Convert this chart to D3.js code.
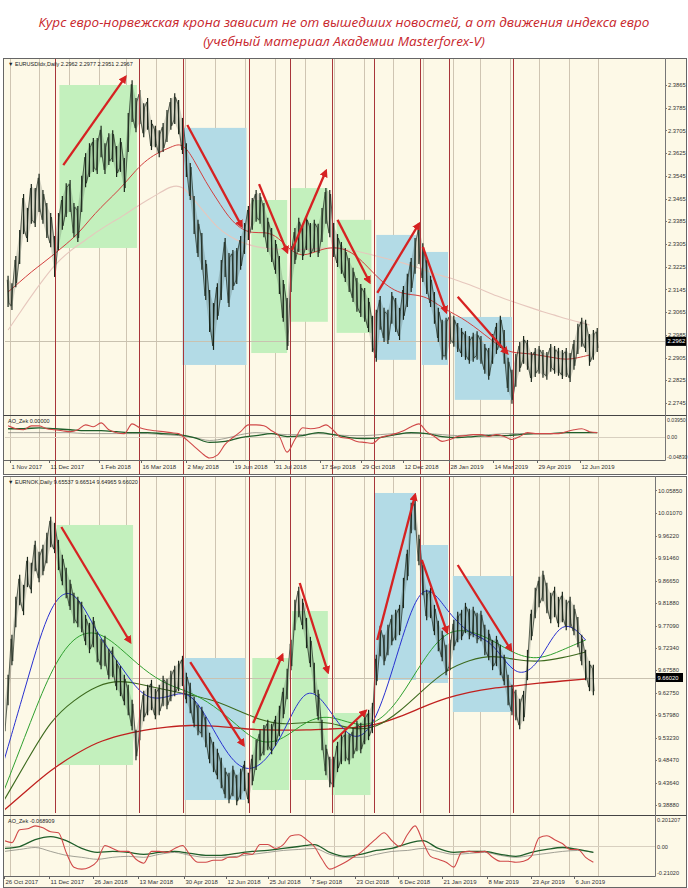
<!DOCTYPE html>
<html><head><meta charset="utf-8">
<script src="https://cdn.jsdelivr.net/npm/d3@7"></script>
<style>body{margin:0;background:#fff}</style>
</head><body>
<svg id="c" width="688" height="888"></svg>
<script>
const titleLines = ["Курс евро-норвежская крона зависит не от вышедших новостей, а от движения индекса евро","(учебный материал Академии Masterforex-V)"];
const eurxHeader = "EURUSDIdx,Daily  2.2962 2.2977 2.2951 2.2967";
const nokHeader = "EURNOK,Daily  9.65537 9.66514 9.64965 9.66020";
const eurxOscHeader = "AO_Zek 0.00000";
const nokOscHeader = "AO_Zek -0.068909";
const barStepDays = 4;
const eurxStart = "2017-10-30";
const eurxHigh = [2.3186,2.3160,2.3256,2.3347,2.3474,2.3425,2.3509,2.3495,2.3545,2.3488,
2.3442,2.3407,2.3326,2.3407,2.3467,2.3512,2.3523,2.3442,2.3432,2.3538,
2.3618,2.3653,2.3671,2.3671,2.3714,2.3653,2.3688,2.3699,2.3643,2.3671,
2.3601,2.3759,2.3875,2.3812,2.3840,2.3794,2.3812,2.3735,2.3714,2.3699,
2.3724,2.3770,2.3812,2.3829,2.3805,2.3742,2.3653,2.3583,2.3467,2.3383,
2.3337,2.3242,2.3136,2.3090,2.3160,2.3242,2.3319,2.3266,2.3277,2.3284,
2.3326,2.3372,2.3432,2.3460,2.3488,2.3478,2.3442,2.3390,2.3354,2.3312,
2.3256,2.3171,2.3108,2.3291,2.3354,2.3390,2.3362,2.3397,2.3372,2.3383,
2.3369,2.3425,2.3495,2.3488,2.3372,2.3333,2.3305,2.3284,2.3249,2.3214,
2.3178,2.3157,2.3143,2.3108,2.3045,2.3066,2.3115,2.3073,2.3066,2.3129,
2.3108,2.3073,2.3150,2.3193,2.3249,2.3319,2.3362,2.3301,2.3242,2.3186,
2.3129,2.3073,2.3031,2.3038,2.3055,2.3045,2.3020,2.3002,2.2991,2.2974,
2.2985,2.2991,2.2974,2.2946,2.2932,2.2981,2.3020,2.3045,2.2995,2.2897,
2.2855,2.2911,2.2953,2.2974,2.2960,2.2918,2.2932,2.2939,2.2925,2.2918,
2.2946,2.2939,2.2932,2.2925,2.2932,2.2914,2.2960,2.3017,2.3038,2.3031,
2.2981,2.2995,2.3002];
const eurxLow = [2.3090,2.3080,2.3160,2.3242,2.3347,2.3319,2.3383,2.3372,2.3425,2.3383,
2.3333,2.3301,2.3196,2.3291,2.3362,2.3407,2.3425,2.3336,2.3319,2.3425,
2.3512,2.3548,2.3566,2.3559,2.3618,2.3559,2.3590,2.3601,2.3548,2.3566,
2.3495,2.3636,2.3742,2.3706,2.3735,2.3688,2.3714,2.3643,2.3653,2.3618,
2.3636,2.3671,2.3714,2.3735,2.3699,2.3629,2.3548,2.3467,2.3347,2.3266,
2.3221,2.3115,2.3002,2.2939,2.3045,2.3115,2.3196,2.3090,2.3150,2.3171,
2.3221,2.3277,2.3326,2.3362,2.3390,2.3383,2.3336,2.3284,2.3249,2.3207,
2.3136,2.3038,2.2939,2.3143,2.3242,2.3284,2.3256,2.3291,2.3266,2.3284,
2.3266,2.3319,2.3383,2.3336,2.3266,2.3231,2.3207,2.3178,2.3143,2.3108,
2.3073,2.3055,2.3038,2.3002,2.2932,2.2897,2.3010,2.2967,2.2960,2.3031,
2.3002,2.2974,2.3045,2.3090,2.3143,2.3207,2.3242,2.3178,2.3136,2.3090,
2.3031,2.2967,2.2904,2.2904,2.2960,2.2950,2.2932,2.2914,2.2904,2.2890,
2.2897,2.2904,2.2890,2.2855,2.2834,2.2890,2.2925,2.2946,2.2890,2.2791,
2.2749,2.2809,2.2862,2.2890,2.2869,2.2826,2.2844,2.2855,2.2841,2.2834,
2.2862,2.2855,2.2848,2.2837,2.2844,2.2826,2.2869,2.2925,2.2950,2.2932,
2.2883,2.2904,2.2932];
const nokStart = "2017-10-26";
const nokHigh = [9.5977,9.6616,9.7468,9.8276,9.8745,9.8532,9.9128,9.9000,9.9468,9.9234,
9.9384,9.9639,9.9979,9.9852,9.9490,9.9171,9.8894,9.8639,9.8362,9.8276,
9.8170,9.7893,9.7723,9.7850,9.7531,9.7383,9.7446,9.7170,9.7212,9.6935,
9.6808,9.6616,9.6403,9.6084,9.5445,9.5871,9.6275,9.6403,9.6509,9.6318,
9.6403,9.6595,9.6531,9.6701,9.6808,9.6914,9.7021,9.6659,9.6446,9.6148,
9.5977,9.5935,9.5722,9.5381,9.5190,9.5041,9.4849,9.4636,9.4530,9.4679,
9.4487,9.4615,9.4785,9.4530,9.4913,9.5233,9.5445,9.5551,9.5658,9.5573,
9.5743,9.5956,9.6339,9.6744,9.7361,9.8213,9.8489,9.8234,9.7829,9.7425,
9.6871,9.6297,9.5658,9.5126,9.4870,9.4870,9.5190,9.5360,9.5424,9.5360,
9.5488,9.5637,9.5594,9.5786,9.5871,9.6020,9.7042,9.7659,9.7468,9.7680,
9.7893,9.8000,9.8106,9.8681,9.9277,10.0277,10.0341,9.9596,9.8958,9.8426,
9.8468,9.8106,9.7765,9.7553,9.7255,9.7361,9.7787,9.7957,9.8000,9.8149,
9.8021,9.8064,9.7936,9.7978,9.7680,9.7574,9.7361,9.7446,9.7255,9.7042,
9.6616,9.6403,9.6297,9.6105,9.6275,9.7148,9.8000,9.8468,9.8702,9.8830,
9.8575,9.8362,9.8489,9.8276,9.8383,9.8213,9.8276,9.8106,9.7850,9.7468,
9.7148,9.6914,9.6829];
const nokLow = [9.5417,9.6056,9.6908,9.7716,9.8185,9.7972,9.8568,9.8440,9.8908,9.8674,
9.8824,9.9079,9.9419,9.9292,9.8930,9.8611,9.8334,9.8079,9.7802,9.7716,
9.7610,9.7333,9.7163,9.7290,9.6971,9.6823,9.6886,9.6610,9.6652,9.6375,
9.6248,9.6056,9.5843,9.5524,9.4885,9.5311,9.5715,9.5843,9.5949,9.5758,
9.5843,9.6035,9.5971,9.6141,9.6248,9.6354,9.6461,9.6099,9.5886,9.5588,
9.5417,9.5375,9.5162,9.4821,9.4630,9.4481,9.4289,9.4076,9.3970,9.4119,
9.3927,9.4055,9.4225,9.3970,9.4353,9.4673,9.4885,9.4991,9.5098,9.5013,
9.5183,9.5396,9.5779,9.6184,9.6801,9.7653,9.7929,9.7674,9.7269,9.6865,
9.6311,9.5737,9.5098,9.4566,9.4310,9.4310,9.4630,9.4800,9.4864,9.4800,
9.4928,9.5077,9.5034,9.5226,9.5311,9.5460,9.6482,9.7099,9.6908,9.7120,
9.7333,9.7440,9.7546,9.8121,9.8717,9.9717,9.9781,9.9036,9.8398,9.7866,
9.7908,9.7546,9.7205,9.6993,9.6695,9.6801,9.7227,9.7397,9.7440,9.7589,
9.7461,9.7504,9.7376,9.7418,9.7120,9.7014,9.6801,9.6886,9.6695,9.6482,
9.6056,9.5843,9.5737,9.5545,9.5715,9.6588,9.7440,9.7908,9.8142,9.8270,
9.8015,9.7802,9.7929,9.7716,9.7823,9.7653,9.7716,9.7546,9.7290,9.6908,
9.6588,9.6354,9.6269];
const eurxMaStep = 12;
const eurxMaRed = [2.3136,2.3171,2.3207,2.3238,2.3270,2.3305,2.3340,2.3390,2.3435,2.3474,2.3516,2.3566,2.3604,2.3629,2.3646,2.3664,2.3601,2.3523,2.3460,2.3397,2.3358,2.3343,2.3347,2.3337,2.3294,2.3263,2.3270,2.3287,2.3294,2.3287,2.3263,2.3221,2.3178,2.3146,2.3129,2.3126,2.3118,2.3090,2.3066,2.3045,2.3017,2.2985,2.2953,2.2925,2.2921,2.2918,2.2911,2.2904,2.2897,2.2904,2.2914];
const eurxMaPale = [2.3002,2.3062,2.3122,2.3178,2.3231,2.3270,2.3301,2.3329,2.3358,2.3383,2.3407,2.3435,2.3460,2.3484,2.3509,2.3512,2.3460,2.3411,2.3362,2.3333,2.3312,2.3298,2.3291,2.3287,2.3284,2.3284,2.3287,2.3291,2.3291,2.3287,2.3280,2.3270,2.3259,2.3249,2.3238,2.3225,2.3211,2.3196,2.3186,2.3171,2.3157,2.3140,2.3122,2.3108,2.3094,2.3080,2.3066,2.3055,2.3041,2.3031,2.3020];
const nokMaStep = 24;
const nokMaBlue = [9.4846,9.6549,9.8252,9.8571,9.7507,9.6868,9.6123,9.6166,9.6379,9.5484,9.4633,9.4633,9.5378,9.6549,9.5910,9.5165,9.5591,9.7294,9.8784,9.8039,9.7507,9.7400,9.6549,9.6868,9.7933,9.7400];
const nokMaGreen = [9.4207,9.5484,9.6762,9.7507,9.7613,9.7230,9.6762,9.6443,9.6294,9.6017,9.5591,9.5165,9.5271,9.5697,9.5804,9.5591,9.5591,9.6123,9.6975,9.7613,9.7613,9.7400,9.7081,9.6975,9.7188,9.7400];
const nokMaOlive = [9.3994,9.4846,9.5697,9.6123,9.6443,9.6549,9.6443,9.6336,9.6230,9.6123,9.5910,9.5697,9.5591,9.5655,9.5655,9.5484,9.5527,9.5868,9.6336,9.6762,9.6975,9.7081,9.6975,9.6932,9.7018,9.7145];
const nokMaRed = [9.3781,9.4207,9.4633,9.4953,9.5229,9.5378,9.5484,9.5548,9.5591,9.5570,9.5527,9.5484,9.5484,9.5484,9.5506,9.5527,9.5591,9.5761,9.5974,9.6166,9.6294,9.6379,9.6421,9.6485,9.6528,9.6570];
const oscFastStep = 8, oscSlowStep = 16;
const eurxOscRed = [0.0245,0.0181,0.0159,0.0245,0.0245,0.0181,0.0159,0.0138,0.0117,0.0159,0.0267,0.0224,0.0309,0.0159,0.0095,0.0074,0.0288,0.0202,0.0159,0.0138,0.0117,0.0095,0.0074,-0.0055,-0.0204,-0.0354,-0.0461,-0.0397,-0.0162,-0.0012,0.0117,0.0267,0.0267,0.0245,0.0138,0.0010,-0.0333,-0.0055,0.0202,0.0181,0.0202,0.0267,0.0138,-0.0012,-0.0033,-0.0097,-0.0119,-0.0140,-0.0012,0.0031,0.0074,0.0138,0.0224,0.0288,0.0117,0.0010,-0.0097,-0.0055,0.0010,0.0031,0.0052,0.0052,0.0010,0.0052,0.0010,-0.0055,0.0010,0.0095,0.0074,0.0074,0.0074,0.0074,0.0117,0.0159,0.0181,0.0117,0.0095];
const eurxOscGreen = [0.0181,0.0181,0.0202,0.0181,0.0159,0.0138,0.0138,0.0117,0.0095,0.0095,0.0074,0.0052,-0.0012,-0.0119,-0.0097,-0.0012,0.0031,0.0074,0.0010,0.0031,0.0095,0.0052,-0.0012,-0.0033,-0.0012,0.0052,0.0095,0.0074,0.0010,-0.0012,0.0010,0.0031,0.0031,0.0052,0.0074,0.0074,0.0095,0.0095,0.0095];
const eurxOscGray = [0.0095,0.0095,0.0095,0.0095,0.0095,0.0074,0.0074,0.0074,0.0074,0.0074,0.0052,0.0031,-0.0012,-0.0076,-0.0033,0.0052,0.0095,0.0074,0.0052,0.0052,0.0074,0.0052,0.0031,0.0031,0.0052,0.0074,0.0074,0.0074,0.0052,0.0031,0.0052,0.0052,0.0074,0.0074,0.0074,0.0074,0.0095,0.0095,0.0095];
const nokOscRed = [0.0424,0.0280,0.1218,0.1290,0.1507,0.1362,0.1074,0.1001,-0.0442,-0.1525,-0.1669,-0.1525,-0.1092,0.0063,-0.0153,-0.0370,-0.0370,-0.0947,-0.1236,-0.0370,-0.0370,-0.0442,-0.0153,0.0063,-0.0659,-0.1164,-0.1164,-0.1020,-0.1020,-0.0803,-0.0803,-0.0514,-0.0586,0.0135,0.0135,-0.0153,0.0135,0.0785,0.0857,0.0496,-0.0009,-0.0947,-0.1669,-0.1452,-0.1164,-0.0803,-0.0442,0.0063,0.0568,0.1001,0.0424,-0.0009,0.0857,0.1507,0.0352,-0.0731,-0.0947,-0.1164,-0.1525,-0.0442,-0.0370,-0.0442,-0.0370,-0.0803,-0.1092,-0.1092,-0.1164,-0.1092,-0.0731,0.0640,0.0785,0.0496,0.0208,-0.0226,-0.0226,-0.0803,-0.1164];
const nokOscGreen = [-0.0153,-0.0009,0.0496,0.0713,0.0424,-0.0153,-0.0442,-0.0370,-0.0442,-0.0586,-0.0442,-0.0370,-0.0514,-0.0659,-0.0659,-0.0514,-0.0370,-0.0298,-0.0153,-0.0009,0.0135,-0.0442,-0.0731,-0.0586,-0.0298,-0.0153,0.0208,0.0424,-0.0153,-0.0442,-0.0370,-0.0370,-0.0586,-0.0731,-0.0442,-0.0226,-0.0081,-0.0226,-0.0442];
const nokOscGray = [-0.0370,-0.0226,-0.0081,-0.0370,-0.0659,-0.0803,-0.0947,-0.0803,-0.0731,-0.0803,-0.0586,-0.0442,-0.0659,-0.0803,-0.0803,-0.0731,-0.0586,-0.0442,-0.0298,-0.0226,-0.0153,-0.0586,-0.0803,-0.0803,-0.0586,-0.0370,-0.0298,-0.0153,-0.0370,-0.0586,-0.0514,-0.0442,-0.0659,-0.0803,-0.0659,-0.0514,-0.0370,-0.0298,-0.0442];
const eurxZones = [["2017-12-22","2018-03-12",2.3865,2.3291,"g"],["2018-04-28","2018-07-03",2.3714,2.2879,"b"],["2018-07-08","2018-08-14",2.3460,2.2921,"g"],["2018-08-17","2018-09-25",2.3502,2.3031,"g"],["2018-10-04","2018-11-09",2.3390,2.2992,"g"],["2018-11-14","2018-12-25",2.3337,2.2897,"b"],["2018-12-31","2019-01-27",2.3277,2.2879,"b"],["2019-02-03","2019-04-03",2.3048,2.2756,"b"]];
const nokZones = [["2017-12-19","2018-03-08",9.9849,9.4739,"g"],["2018-04-30","2018-07-02",9.7017,9.3994,"b"],["2018-07-09","2018-08-16",9.7017,9.4207,"g"],["2018-08-19","2018-09-25",9.8018,9.4420,"g"],["2018-09-29","2018-11-08",9.5846,9.4100,"g"],["2018-11-12","2018-12-25",10.0530,9.6549,"b"],["2018-12-29","2019-01-27",9.9423,9.6485,"b"],["2019-02-01","2019-04-05",9.8763,9.5868,"b"]];
const eurxArrows = [["2017-12-26",2.3583,"2018-02-28",2.3893],["2018-05-03",2.3724,"2018-06-28",2.3368],["2018-07-16",2.3516,"2018-08-14",2.3277],["2018-08-19",2.3284,"2018-09-23",2.3562],["2018-10-05",2.3390,"2018-11-07",2.3171],["2018-11-15",2.3133,"2018-12-28",2.3376],["2019-01-01",2.3295,"2019-01-25",2.3066],["2019-02-06",2.3119,"2019-03-29",2.2921]];
const nokArrows = [["2017-12-24",9.9806,"2018-03-05",9.7358],["2018-05-06",9.6932,"2018-06-30",9.5165],["2018-07-10",9.5634,"2018-08-09",9.7081],["2018-08-27",9.8614,"2018-09-25",9.6719],["2018-09-30",9.5229,"2018-11-03",9.5889],["2018-11-15",9.7400,"2018-12-24",10.0487],["2018-12-31",9.9104,"2019-01-26",9.7570],["2019-02-06",9.8997,"2019-04-02",9.7188]];
const eventDates = ["2017-12-17","2018-03-14","2018-04-29","2018-07-06","2018-08-17","2018-09-29","2018-11-12","2018-12-29","2019-01-28","2019-04-04"];
const eurxYTicks = ["2.3865","2.3785","2.3705","2.3625","2.3545","2.3465","2.3385","2.3305","2.3225","2.3145","2.3065","2.2985","2.2905","2.2825","2.2745"];
const nokYTicks = ["10.05850","10.01070","9.96220","9.91460","9.86650","9.81880","9.77090","9.72340","9.67580","9.62750","9.57980","9.53230","9.48470","9.43640","9.38880"];
const eurxOscTicks = ["0.03950","0.00","-0.04830"];
const nokOscTicks = ["0.201207","0.00","-0.21020"];
const eurxXTicks = [["2017-11-01","1 Nov 2017"],["2017-12-11","11 Dec 2017"],["2018-02-01","1 Feb 2018"],["2018-03-16","16 Mar 2018"],["2018-05-02","2 May 2018"],["2018-06-19","19 Jun 2018"],["2018-07-31","31 Jul 2018"],["2018-09-17","17 Sep 2018"],["2018-10-29","29 Oct 2018"],["2018-12-12","12 Dec 2018"],["2019-01-28","28 Jan 2019"],["2019-03-14","14 Mar 2019"],["2019-04-29","29 Apr 2019"],["2019-06-12","12 Jun 2019"]];
const nokXTicks = [["2017-10-26","26 Oct 2017"],["2017-12-11","11 Dec 2017"],["2018-01-26","26 Jan 2018"],["2018-03-13","13 Mar 2018"],["2018-04-30","30 Apr 2018"],["2018-06-12","12 Jun 2018"],["2018-07-25","25 Jul 2018"],["2018-09-07","7 Sep 2018"],["2018-10-23","23 Oct 2018"],["2018-12-06","6 Dec 2018"],["2019-01-21","21 Jan 2019"],["2019-03-08","8 Mar 2019"],["2019-04-23","23 Apr 2019"],["2019-06-06","6 Jun 2019"]];
const eurxLast = 2.2962, nokLast = 9.66020;

const parse = d3.timeParse("%Y-%m-%d");
const svg = d3.select("#c");
const CREAM = "#fdf9e7";
const FONT = "'Liberation Sans', Arial, sans-serif";
const x = d3.scaleTime().domain([parse("2017-11-01"), parse("2019-06-12")]).range([10, 579.8]);
const PL = 5;

svg.selectAll("text.title").data(titleLines).join("text").attr("class","title")
  .attr("x",344).attr("y",(d,i)=>27+i*19).attr("text-anchor","middle")
  .attr("font-family","'Open Sans','DejaVu Sans',sans-serif").attr("font-style","italic")
  .attr("font-size",13.5).attr("fill","#c8262c").text(d=>d);

const defs = svg.append("defs");
defs.append("marker").attr("id","ah").attr("viewBox","0 0 10 10").attr("refX",7).attr("refY",5)
  .attr("markerWidth",3.6).attr("markerHeight",3.6).attr("orient","auto")
  .append("path").attr("d","M0,0L10,5L0,10z").attr("fill","#d62222");

function series(start, step, arr){ const s=parse(start); return arr.map((v,i)=>[d3.timeDay.offset(s,i*step), v]); }

function panel(o){
  const g = svg.append("g");
  const id = o.id, PR = o.pr;
  g.append("rect").attr("x",3.5).attr("y",o.fTop+0.5).attr("width",683).attr("height",o.fBot-o.fTop).attr("fill",CREAM).attr("stroke","#666");
  defs.append("clipPath").attr("id",id+"p").append("rect").attr("x",PL).attr("y",o.pTop).attr("width",PR-PL).attr("height",o.pBot-o.pTop);
  defs.append("clipPath").attr("id",id+"o").append("rect").attr("x",PL).attr("y",o.oTop).attr("width",PR-PL).attr("height",o.oBot-o.oTop);
  defs.append("clipPath").attr("id",id+"a").append("rect").attr("x",PL).attr("y",o.pTop).attr("width",PR-PL).attr("height",o.evBot-o.pTop);
  defs.append("clipPath").attr("id",id+"m").append("rect").attr("x",PL).attr("y",o.pTop).attr("width",PR-PL).attr("height",o.oBot-o.pTop);
  const y = d3.scaleLinear().domain(o.yDom).range(o.yRng);
  const yo = d3.scaleLinear().domain(o.oDom).range([o.oBot-1, o.oTop+2]);
  const all = g.append("g").attr("clip-path",`url(#${id}m)`);
  all.selectAll("line.m").data(d3.timeMonth.range(parse("2017-11-01"), parse("2019-07-02"))).join("line")
    .attr("x1",d=>Math.round(x(d))+0.5).attr("x2",d=>Math.round(x(d))+0.5).attr("y1",o.pTop).attr("y2",o.oBot)
    .attr("stroke","#cfc5b2").attr("stroke-width",1);
  const pg = g.append("g").attr("clip-path",`url(#${id}p)`);
  pg.selectAll("rect.z").data(o.zones).join("rect")
    .attr("x",d=>x(parse(d[0]))).attr("width",d=>x(parse(d[1]))-x(parse(d[0])))
    .attr("y",d=>y(d[2])).attr("height",d=>y(d[3])-y(d[2]))
    .attr("fill",d=>d[4]==="g"?"#c3f0bd":"#b3dbe6");
  const ev = g.append("g").attr("clip-path",`url(#${id}a)`);
  ev.selectAll("line").data(eventDates).join("line")
    .attr("x1",d=>Math.round(x(parse(d)))+0.5).attr("x2",d=>Math.round(x(parse(d)))+0.5)
    .attr("y1",o.pTop).attr("y2",o.evBot).attr("stroke","#a8363a").attr("stroke-width",1);
  pg.append("line").attr("x1",PL).attr("x2",PR).attr("y1",Math.round(y(o.last))+0.5).attr("y2",Math.round(y(o.last))+0.5).attr("stroke","#c9c2b0");
  o.mas.forEach(m=>{
    pg.append("path").datum(series(m.start,m.step,m.data)).attr("fill","none").attr("stroke",m.color).attr("stroke-width",m.w)
      .attr("d",d3.line().x(d=>x(d[0])).y(d=>y(d[1])).curve(d3.curveBasis));
  });
  const s = parse(o.start);
  const bars = o.hi.map((h,i)=>({x:x(d3.timeDay.offset(s,i*barStepDays)), h:y(h), l:y(o.lo[i])}));
  pg.append("path").datum(bars).attr("fill","#1b261b").attr("fill-opacity",0.18)
    .attr("d",d3.area().x(d=>d.x).y0(d=>d.l).y1(d=>d.h));
  const pts = [];
  bars.forEach((b,i)=>{ if(i%2===0){pts.push([b.x-0.8,b.h+2]);pts.push([b.x+0.8,b.l-2]);} else {pts.push([b.x-0.8,b.l-2]);pts.push([b.x+0.8,b.h+2]);} });
  pg.append("path").attr("d",d3.line()(pts)).attr("fill","none").attr("stroke","#1b261b").attr("stroke-width",0.8).attr("stroke-opacity",0.85);
  pg.selectAll("line.bar").data(bars).join("line")
    .attr("x1",d=>d.x).attr("x2",d=>d.x).attr("y1",d=>d.h-2).attr("y2",d=>d.l+2).attr("stroke","#1b261b").attr("stroke-width",1.2);
  pg.selectAll("line.arr").data(o.arrows).join("line")
    .attr("x1",d=>x(parse(d[0]))).attr("y1",d=>y(d[1])).attr("x2",d=>x(parse(d[2]))).attr("y2",d=>y(d[3]))
    .attr("stroke","#d62222").attr("stroke-width",2.3).attr("marker-end","url(#ah)");
  const og = g.append("g").attr("clip-path",`url(#${id}o)`);
  og.append("line").attr("x1",PL).attr("x2",PR).attr("y1",Math.round(yo(0))+0.5).attr("y2",Math.round(yo(0))+0.5).attr("stroke","#d8d0c0");
  o.osc.forEach(m=>{
    og.append("path").datum(series(m.start,m.step,m.data)).attr("fill","none").attr("stroke",m.color).attr("stroke-width",m.w)
      .attr("d",d3.line().x(d=>x(d[0])).y(d=>yo(d[1])).curve(d3.curveMonotoneX));
  });
  g.append("line").attr("x1",3.5).attr("x2",686.5).attr("y1",o.oTop-1.5).attr("y2",o.oTop-1.5).attr("stroke","#444").attr("stroke-width",1.2);
  g.append("line").attr("x1",3.5).attr("x2",PR+0.5).attr("y1",o.oBot+0.5).attr("y2",o.oBot+0.5).attr("stroke","#666");
  g.append("line").attr("x1",PR+0.5).attr("x2",PR+0.5).attr("y1",o.fTop).attr("y2",o.oBot+0.5).attr("stroke","#777");
  g.selectAll(null).data(o.yTicks).join("g").each(function(t){
    const gg = d3.select(this), yy = y(parseFloat(t));
    gg.append("line").attr("x1",PR).attr("x2",PR+2).attr("y1",Math.round(yy)+0.5).attr("y2",Math.round(yy)+0.5).attr("stroke","#777");
    gg.append("text").attr("x",PR+3).attr("y",yy+2.1).attr("font-family",FONT).attr("font-size",o.fs).attr("fill","#333").text(t);
  });
  g.selectAll(null).data(o.oTicks).join("text").attr("x",PR+2).attr("font-family",FONT).attr("font-size",o.ofs).attr("fill","#333")
    .attr("y",(t,i)=> i===0? o.oTop+5 : i===1 ? yo(0)+2.5 : o.oBot-1).text(t=>t);
  const ly = y(o.last);
  g.append("rect").attr("x",PR+1).attr("y",ly-4.5).attr("width",o.boxW).attr("height",9).attr("fill","#000");
  g.append("text").attr("x",PR+2.5).attr("y",ly+2.1).attr("font-family",FONT).attr("font-size",o.fs).attr("fill","#fff").text(o.lastLabel);
  g.selectAll(null).data(o.xTicks).join("g").each(function(t){
    const xx = Math.round(x(parse(t[0])))+0.5, gg = d3.select(this);
    gg.append("line").attr("x1",xx).attr("x2",xx).attr("y1",o.oBot).attr("y2",o.oBot+3).attr("stroke","#666");
    gg.append("text").attr("x",xx+1).attr("y",o.lblY).attr("font-family",FONT).attr("font-size",6).attr("fill","#333").text(t[1]);
  });
  g.append("text").attr("x",8).attr("y",o.pTop+7).attr("font-family",FONT).attr("font-size",5.5).attr("fill","#222").text("▼ "+o.header);
  g.append("text").attr("x",8).attr("y",o.oTop+6).attr("font-family",FONT).attr("font-size",5.5).attr("fill","#222").text(o.oscHeader);
}

panel({id:"t", pr:665, fs:5.8, ofs:5.2, boxW:20, fTop:58, fBot:474, pTop:59, pBot:415, oTop:417, oBot:460, lblY:469, evBot:474,
  yDom:[2.2745,2.3865], yRng:[403,85], oDom:[-0.0483,0.0395],
  zones:eurxZones, arrows:eurxArrows, start:eurxStart, hi:eurxHigh, lo:eurxLow, last:eurxLast, lastLabel:"2.2962",
  mas:[{start:eurxStart,step:eurxMaStep,data:eurxMaPale,color:"#e6c7bd",w:1.1},{start:eurxStart,step:eurxMaStep,data:eurxMaRed,color:"#d2403f",w:1}],
  osc:[{start:eurxStart,step:oscSlowStep,data:eurxOscGray,color:"#8a8a80",w:0.8},{start:eurxStart,step:oscSlowStep,data:eurxOscGreen,color:"#1f5e2a",w:1.3},{start:eurxStart,step:oscFastStep,data:eurxOscRed,color:"#d04848",w:1.1}],
  yTicks:eurxYTicks, oTicks:eurxOscTicks, xTicks:eurxXTicks, header:eurxHeader, oscHeader:eurxOscHeader});

panel({id:"b", pr:655, fs:5.8, ofs:5.6, boxW:27, fTop:476, fBot:887, pTop:477, pBot:813, oTop:817, oBot:876, lblY:884, evBot:813,
  yDom:[9.3888,9.9146], yRng:[805,558], oDom:[-0.2102,0.2012],
  zones:nokZones, arrows:nokArrows, start:nokStart, hi:nokHigh, lo:nokLow, last:nokLast, lastLabel:"9.66020",
  mas:[{start:nokStart,step:nokMaStep,data:nokMaRed,color:"#c0201e",w:1.3},{start:nokStart,step:nokMaStep,data:nokMaOlive,color:"#3d6a1e",w:1.1},{start:nokStart,step:nokMaStep,data:nokMaGreen,color:"#2fa02f",w:1},{start:nokStart,step:nokMaStep,data:nokMaBlue,color:"#2830d0",w:1}],
  osc:[{start:nokStart,step:oscSlowStep,data:nokOscGray,color:"#8a8a80",w:0.8},{start:nokStart,step:oscSlowStep,data:nokOscGreen,color:"#1f5e2a",w:1.3},{start:nokStart,step:oscFastStep,data:nokOscRed,color:"#d04848",w:1.1}],
  yTicks:nokYTicks, oTicks:nokOscTicks, xTicks:nokXTicks, header:nokHeader, oscHeader:nokOscHeader});
</script>
</body></html>
